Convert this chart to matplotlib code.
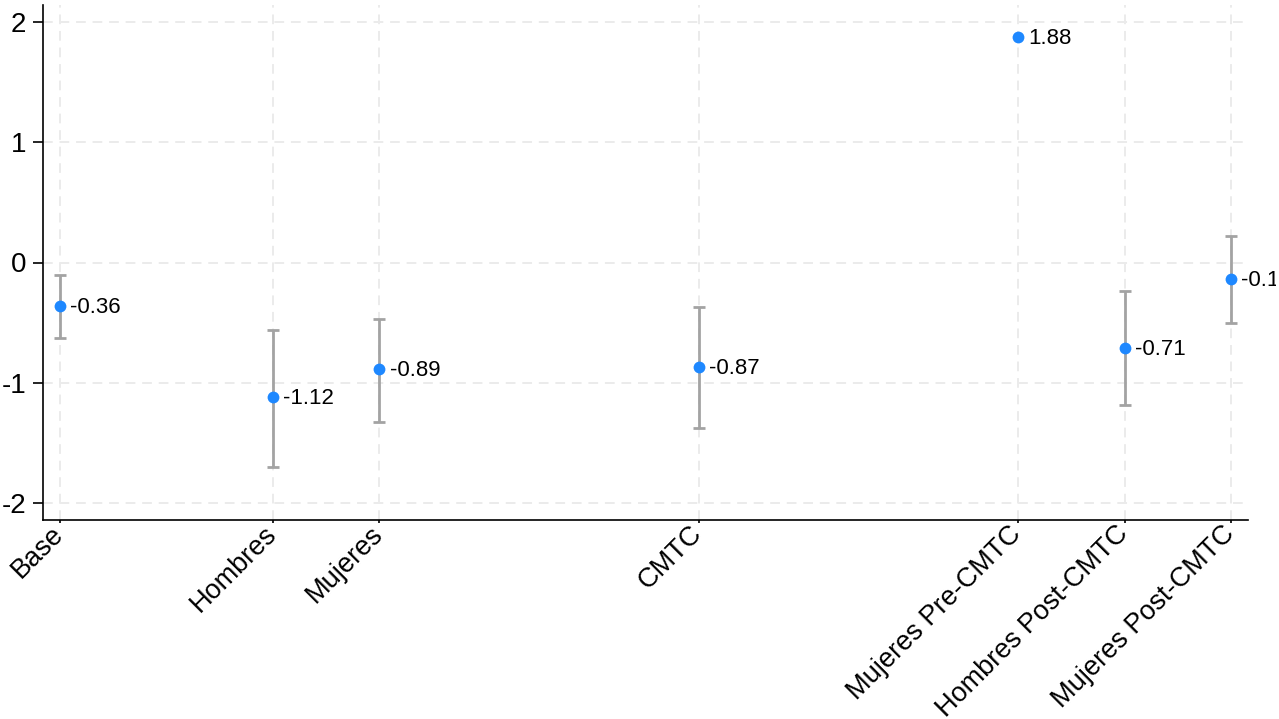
import numpy as np
import matplotlib
matplotlib.use("Agg")
import matplotlib.pyplot as plt
from matplotlib.transforms import Bbox

plt.rcParams['font.family'] = ['Liberation Sans', 'DejaVu Sans']

# coeficientes e intervalos de confianza por grupo
grupos = ["Base", "Hombres", "Mujeres", "CMTC",
          "Mujeres Pre-CMTC", "Hombres Post-CMTC", "Mujeres Post-CMTC"]
posicion = [0, 2, 3, 6, 9, 10, 11]
coef = [-0.36, -1.12, -0.89, -0.87, 1.88, -0.71, -0.14]
ic_inf = [-0.63, -1.70, -1.325, -1.375, np.nan, -1.19, -0.50]
ic_sup = [-0.10, -0.565, -0.47, -0.37, np.nan, -0.24, 0.22]

x = np.array(posicion, dtype=float)
y = np.array(coef)
lo = np.array(ic_inf)
hi = np.array(ic_sup)

fig = plt.figure(figsize=(12.79, 7.19), dpi=100)
ax = fig.add_axes([43 / 1279, 1 - 520 / 719, (1248 - 43) / 1279, (520 - 5) / 719])

ax.set_xlim(-0.16, 11.16)
ax.set_ylim(-2.145, 2.145)

# rejilla discontinua
ax.set_axisbelow(True)
ax.grid(True, color="#ebebeb", linestyle=(0, (5, 3.5)), linewidth=1.4)

ok = ~np.isnan(lo)
ax.errorbar(x[ok], y[ok], yerr=[y[ok] - lo[ok], hi[ok] - y[ok]], fmt="none",
            ecolor="#a3a3a3", elinewidth=2, capsize=4, capthick=2, zorder=2)
ax.plot(x, y, "o", color="#1e88ff", markersize=8.5, markeredgewidth=0, zorder=3)

# etiquetas de valor; la del borde derecho queda recortada
clip = Bbox([[0, 0], [1276, 719]])
for xi, yi in zip(x, y):
    t = ax.annotate(f"{yi:.2f}", (xi, yi), xytext=(7.5, -1), textcoords="offset points",
                    va="center", ha="left", fontsize=16, annotation_clip=False)
    t.set_clip_box(clip)
    t.set_clip_on(True)

# nombres de grupo inclinados bajo cada marca
ax.set_xticks(x)
ax.set_xticklabels([])
for xi, nombre in zip(x, grupos):
    ax.annotate(nombre, (xi, 0), xycoords=("data", "axes fraction"),
                xytext=(3.3, -10.7), textcoords="offset points",
                rotation=45, rotation_mode="anchor", ha="right", va="baseline",
                fontsize=19.5, annotation_clip=False)

ax.set_yticks([-2, -1, 0, 1, 2])
ax.set_yticklabels(["-2", "-1", "0", "1", "2"], fontsize=20)
ax.tick_params(axis="x", length=2.2, width=1.2, color="black")
ax.tick_params(axis="y", length=7, width=1.2, color="black", pad=5)

for s in ["top", "right"]:
    ax.spines[s].set_visible(False)
for s in ["left", "bottom"]:
    ax.spines[s].set_linewidth(1.2)

fig.savefig("out.png", dpi=100)
